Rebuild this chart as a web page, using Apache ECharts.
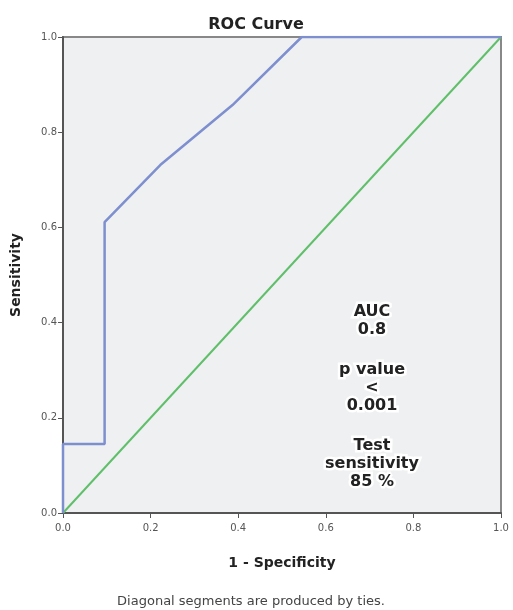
<!DOCTYPE html>
<html><head><meta charset="utf-8">
<script src="https://cdn.jsdelivr.net/npm/echarts@6/dist/echarts.min.js"></script>
<style>html,body{margin:0;padding:0;background:#fff}#c{width:513px;height:610px}</style>
</head><body><div id="c"></div>
<script>
var rocX = [0, 0, 0.095, 0.095, 0.222, 0.387, 0.545, 1.0];
var rocY = [0, 0.145, 0.145, 0.611, 0.731, 0.857, 1.0, 1.0];
var refX = [0, 1];
var refY = [0, 1];
var xTicks = [0, 0.2, 0.4, 0.6, 0.8, 1.0];
var yTicks = [0, 0.2, 0.4, 0.6, 0.8, 1.0];
var noteLines = ['AUC', '0.8', '', 'p value', '<', '0.001', '', 'Test', 'sensitivity', '85 %'];

function zip(a, b) { return a.map(function (v, i) { return [v, b[i]]; }); }

var chart = echarts.init(document.getElementById('c'));
var axisCommon = {
  type: 'value', min: 0, max: 1, interval: 0.2,
  axisLine: { show: true, onZero: false, lineStyle: { color: '#555', width: 2 } },
  axisTick: { show: true, length: 5, lineStyle: { color: '#555' } },
  splitLine: { show: false },
  axisLabel: { color: '#555', fontSize: 10, fontFamily: 'DejaVu Sans', formatter: function (v) { return v.toFixed(1); } },
  nameTextStyle: { color: '#222', fontWeight: 'bold', fontSize: 14, fontFamily: 'DejaVu Sans' }
};

var g = [];
var y = 312;
noteLines.forEach(function (t) {
  if (t === '') { y += 22; return; }
  g.push({ type: 'text', x: 372, y: y, z: 10,
    style: { text: t, fontSize: 16, fontWeight: 'bold', fill: '#222', align: 'center', verticalAlign: 'middle',
             fontFamily: 'DejaVu Sans', stroke: '#ffffff', lineWidth: 5 } });
  y += 18;
});
g.push({ type: 'text', x: 251, y: 602, z: 10,
  style: { text: 'Diagonal segments are produced by ties.', fontSize: 13, fill: '#444', align: 'center', verticalAlign: 'middle', fontFamily: 'DejaVu Sans' } });

chart.setOption({
  backgroundColor: '#ffffff',
  animation: false,
  title: {
    text: 'ROC Curve', left: 251, top: 12, textAlign: 'center',
    textStyle: { fontSize: 16, fontWeight: 'bold', color: '#222', fontFamily: 'DejaVu Sans' }
  },
  grid: { left: 63, right: 12, top: 37, bottom: 97, show: true, backgroundColor: '#eff0f1', borderColor: '#888', borderWidth: 2 },
  xAxis: Object.assign({}, axisCommon, {
    name: '1 - Specificity', nameLocation: 'middle', nameGap: 43,
    axisLabel: Object.assign({}, axisCommon.axisLabel, { margin: 10 })
  }),
  yAxis: Object.assign({}, axisCommon, {
    name: 'Sensitivity', nameLocation: 'middle', nameGap: 40,
    axisLabel: Object.assign({}, axisCommon.axisLabel, { margin: 6 })
  }),
  series: [
    { type: 'line', data: zip(refX, refY), symbol: 'none', lineStyle: { color: '#5fbf6a', width: 2 }, z: 2 },
    { type: 'line', data: zip(rocX, rocY), symbol: 'none', lineStyle: { color: '#7e8fcf', width: 2.5 }, z: 3 }
  ],
  graphic: g
});
</script></body></html>
